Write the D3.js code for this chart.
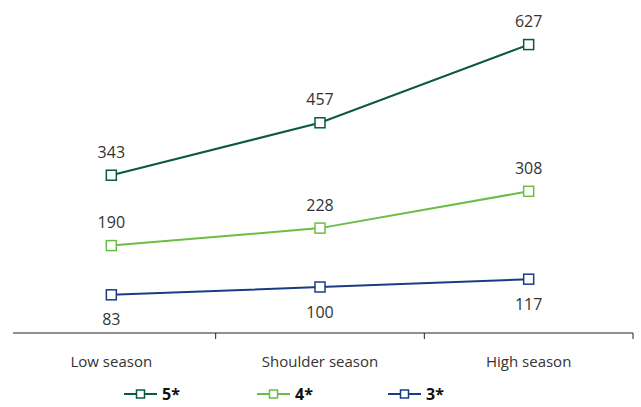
<!DOCTYPE html>
<html>
<head>
<meta charset="utf-8">
<script src="https://cdn.jsdelivr.net/npm/d3@7"></script>
<style>
  html, body { margin: 0; padding: 0; background: #fff; }
  svg { display: block; }
  text { font-family: "Open Sans", "Noto Sans", sans-serif; }
</style>
</head>
<body>
<svg id="chart" width="641" height="407"></svg>
<script>
// Average rate by season and hotel class
const seasons = ["Low season", "Shoulder season", "High season"];
const fiveStar = [343, 457, 627];
const fourStar = [190, 228, 308];
const threeStar = [83, 100, 117];

const seriesNames = ["5*", "4*", "3*"];
const seriesColors = ["#0b5b3a", "#6cbd45", "#1b3b87"];
const seriesValues = [fiveStar, fourStar, threeStar];
const labelSide = ["above", "above", "below"];

const width = 641, height = 407;
const svg = d3.select("#chart");

const x = d3.scaleBand().domain(seasons).range([7, 633]);
const y = d3.scaleLinear().domain([0, 700]).range([333, 11]);

// Category axis: baseline plus separators between the season bands
const axis = svg.append("g");
axis.append("line")
  .attr("x1", 13).attr("x2", 633)
  .attr("y1", y(0)).attr("y2", y(0))
  .attr("stroke", "#222").attr("stroke-width", 1);
seasons.forEach(s => {
  const bx = x(s) + x.bandwidth();
  axis.append("line")
    .attr("x1", bx).attr("x2", bx)
    .attr("y1", y(0)).attr("y2", y(0) + 6)
    .attr("stroke", "#222").attr("stroke-width", 1);
});
axis.selectAll("text.cat")
  .data(seasons)
  .join("text")
  .attr("class", "cat")
  .attr("x", d => x(d) + x.bandwidth() / 2)
  .attr("y", 362)
  .attr("dy", "0.35em")
  .attr("text-anchor", "middle")
  .attr("font-size", 15)
  .attr("fill", "#333")
  .text(d => d);

const cx = d => x(d) + x.bandwidth() / 2;
const line = d3.line()
  .x(d => cx(d.season))
  .y(d => y(d.value));

seriesValues.forEach((vals, i) => {
  const pts = seasons.map((s, j) => ({ season: s, value: vals[j] }));
  const g = svg.append("g");
  g.append("path")
    .datum(pts)
    .attr("d", line)
    .attr("fill", "none")
    .attr("stroke", seriesColors[i])
    .attr("stroke-width", 2);
  g.selectAll("rect")
    .data(pts)
    .join("rect")
    .attr("x", d => cx(d.season) - 5)
    .attr("y", d => y(d.value) - 5)
    .attr("width", 10).attr("height", 10)
    .attr("fill", "#fff")
    .attr("stroke", seriesColors[i])
    .attr("stroke-width", 1.5);
  g.selectAll("text")
    .data(pts)
    .join("text")
    .attr("x", d => cx(d.season))
    .attr("y", d => y(d.value) + (labelSide[i] === "above" ? -23 : 25))
    .attr("dy", "0.35em")
    .attr("text-anchor", "middle")
    .attr("font-size", 16)
    .attr("fill", "#333")
    .text(d => d.value);
});

// Legend
const legendX = [124, 257, 388];
const legend = svg.append("g");
seriesNames.forEach((name, i) => {
  const lx = legendX[i], ly = 394;
  legend.append("line")
    .attr("x1", lx).attr("x2", lx + 33)
    .attr("y1", ly).attr("y2", ly)
    .attr("stroke", seriesColors[i]).attr("stroke-width", 2);
  legend.append("rect")
    .attr("x", lx + 12.5).attr("y", ly - 4)
    .attr("width", 8).attr("height", 8)
    .attr("fill", "#fff")
    .attr("stroke", seriesColors[i]).attr("stroke-width", 1.5);
  legend.append("text")
    .attr("x", lx + 38).attr("y", ly)
    .attr("dy", "0.35em")
    .attr("font-size", 16)
    .attr("font-weight", "bold")
    .attr("fill", "#111")
    .text(name);
});
</script>
</body>
</html>
